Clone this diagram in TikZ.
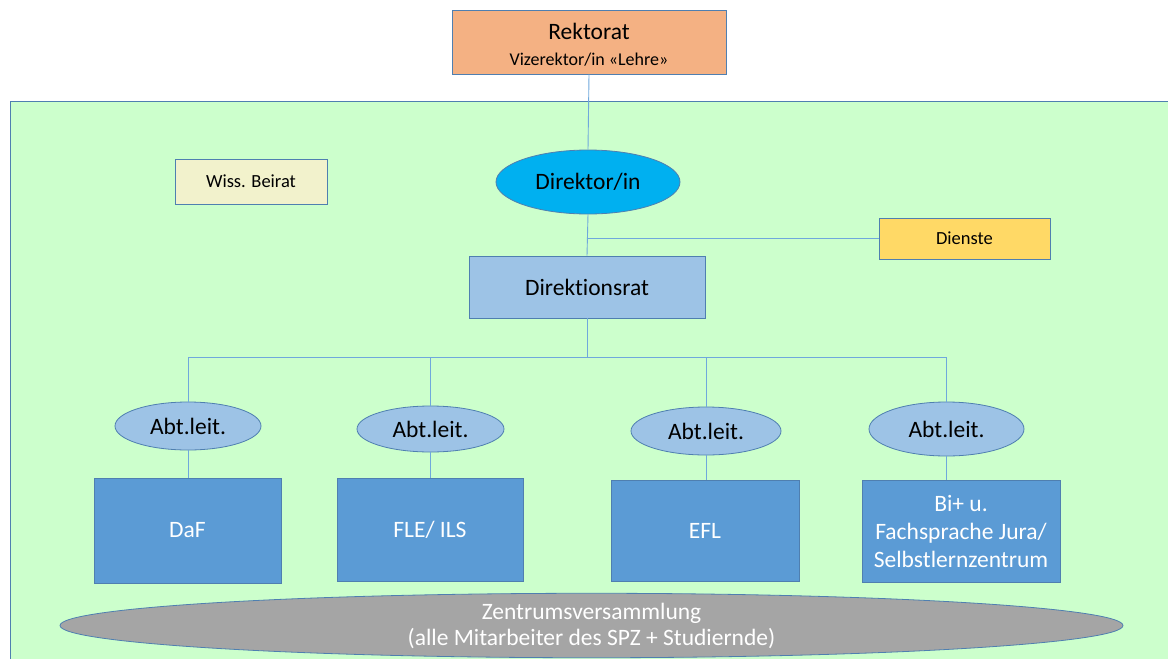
\documentclass[tikz,border=0pt]{standalone}
\usepackage{fontspec}
\setmainfont[Ligatures=NoCommon]{Carlito}
\usetikzlibrary{shapes.geometric}
\definecolor{rekt}{HTML}{F4B183}
\definecolor{zentrum}{HTML}{CCFFCC}
\definecolor{beirat}{HTML}{F2F2CC}
\definecolor{direktor}{HTML}{00B0F0}
\definecolor{dienste}{HTML}{FFD966}
\definecolor{hellblau}{HTML}{9DC3E6}
\definecolor{abtblau}{HTML}{5B9BD5}
\definecolor{versgrau}{HTML}{A5A5A5}
\definecolor{rand}{HTML}{4F7FB0}
\definecolor{linie}{HTML}{6FA8DC}

\begin{document}
\begin{tikzpicture}[x=1pt,y=-1pt,
  box/.style={draw=rand,line width=0.8pt,rectangle,align=center,inner sep=0pt},
  oval/.style={draw=rand,line width=0.8pt,ellipse,inner sep=0pt,align=center},
  verb/.style={draw=linie,line width=0.9pt},
  gross/.style={font=\fontsize{23.5}{28}\selectfont},
  klein/.style={font=\fontsize{18.5}{22}\selectfont}]
\useasboundingbox (0,0) rectangle (1168,659);

% background
\fill[white] (0,0) rectangle (1168,659);
\draw[rand,fill=zentrum,line width=1pt] (10,101) rectangle (1180,670);

% top
\node[box,fill=rekt,minimum width=274,minimum height=64,font=\fontsize{23.5}{26}\selectfont] (rektorat) at (589,42)
  {\rule{0pt}{21pt}Rektorat\\{\fontsize{18}{26}\selectfont Vizerektor/in «Lehre»}};
\node[box,fill=beirat,minimum width=152,minimum height=45,klein] (beirat) at (251,181.5) {Wiss. Beirat};
\node[oval,fill=direktor,minimum width=184,minimum height=64,gross] (direktor) at (588,182) {Direktor/in};
\node[box,fill=dienste,minimum width=171,minimum height=41,klein] (dienste) at (964.5,238.5) {Dienste};
\node[box,fill=hellblau,minimum width=236,minimum height=62,gross] (rat) at (587,287) {Direktionsrat};

% heads of department
\node[oval,fill=hellblau,minimum width=146,minimum height=48,gross] (abt1) at (188,426) {Abt.leit.};
\node[oval,fill=hellblau,minimum width=147,minimum height=46,gross] (abt2) at (430.5,429) {Abt.leit.};
\node[oval,fill=hellblau,minimum width=150,minimum height=48,gross] (abt3) at (706,431) {Abt.leit.};
\node[oval,fill=hellblau,minimum width=155,minimum height=54,gross] (abt4) at (946.5,429) {Abt.leit.};

% departments
\node[box,fill=abtblau,text=white,minimum width=187,minimum height=105,gross] (daf) at (187.5,530.5) {DaF};
\node[box,fill=abtblau,text=white,minimum width=186,minimum height=103,gross] (fle) at (430,529.5) {FLE/ ILS};
\node[box,fill=abtblau,text=white,minimum width=188,minimum height=101,gross] (efl) at (705,530.5) {EFL};
\node[box,fill=abtblau,text=white,minimum width=198,minimum height=102,gross] (bi) at (961,531)
  {Bi+ u.\\Fachsprache Jura/\\Selbstlernzentrum};

% assembly
\node[oval,fill=versgrau,text=white,minimum width=1063,minimum height=61,font=\fontsize{23.5}{26}\selectfont] (vers) at (591.5,625.5)
  {Zentrumsversammlung\\(alle Mitarbeiter des SPZ + Studiernde)};

% lines
\draw[verb] (rektorat.south) -- (direktor.north);
\draw[verb] (direktor.south) -- (rat.north);
\draw[verb] (dienste.west) -- (dienste.west -| direktor.south);
\draw[verb] (rat.south) -- ++(0,39) coordinate (bus);
\draw[verb] (abt1.north) |- (bus);
\draw[verb] (abt4.north) |- (bus);
\draw[verb] (abt2.north) -- (abt2.north |- bus);
\draw[verb] (abt3.north) -- (abt3.north |- bus);
\draw[verb] (abt1.south) -- (abt1.south |- daf.north);
\draw[verb] (abt2.south) -- (abt2.south |- fle.north);
\draw[verb] (abt3.south) -- (abt3.south |- efl.north);
\draw[verb] (abt4.south) -- (abt4.south |- bi.north);
\end{tikzpicture}
\end{document}
